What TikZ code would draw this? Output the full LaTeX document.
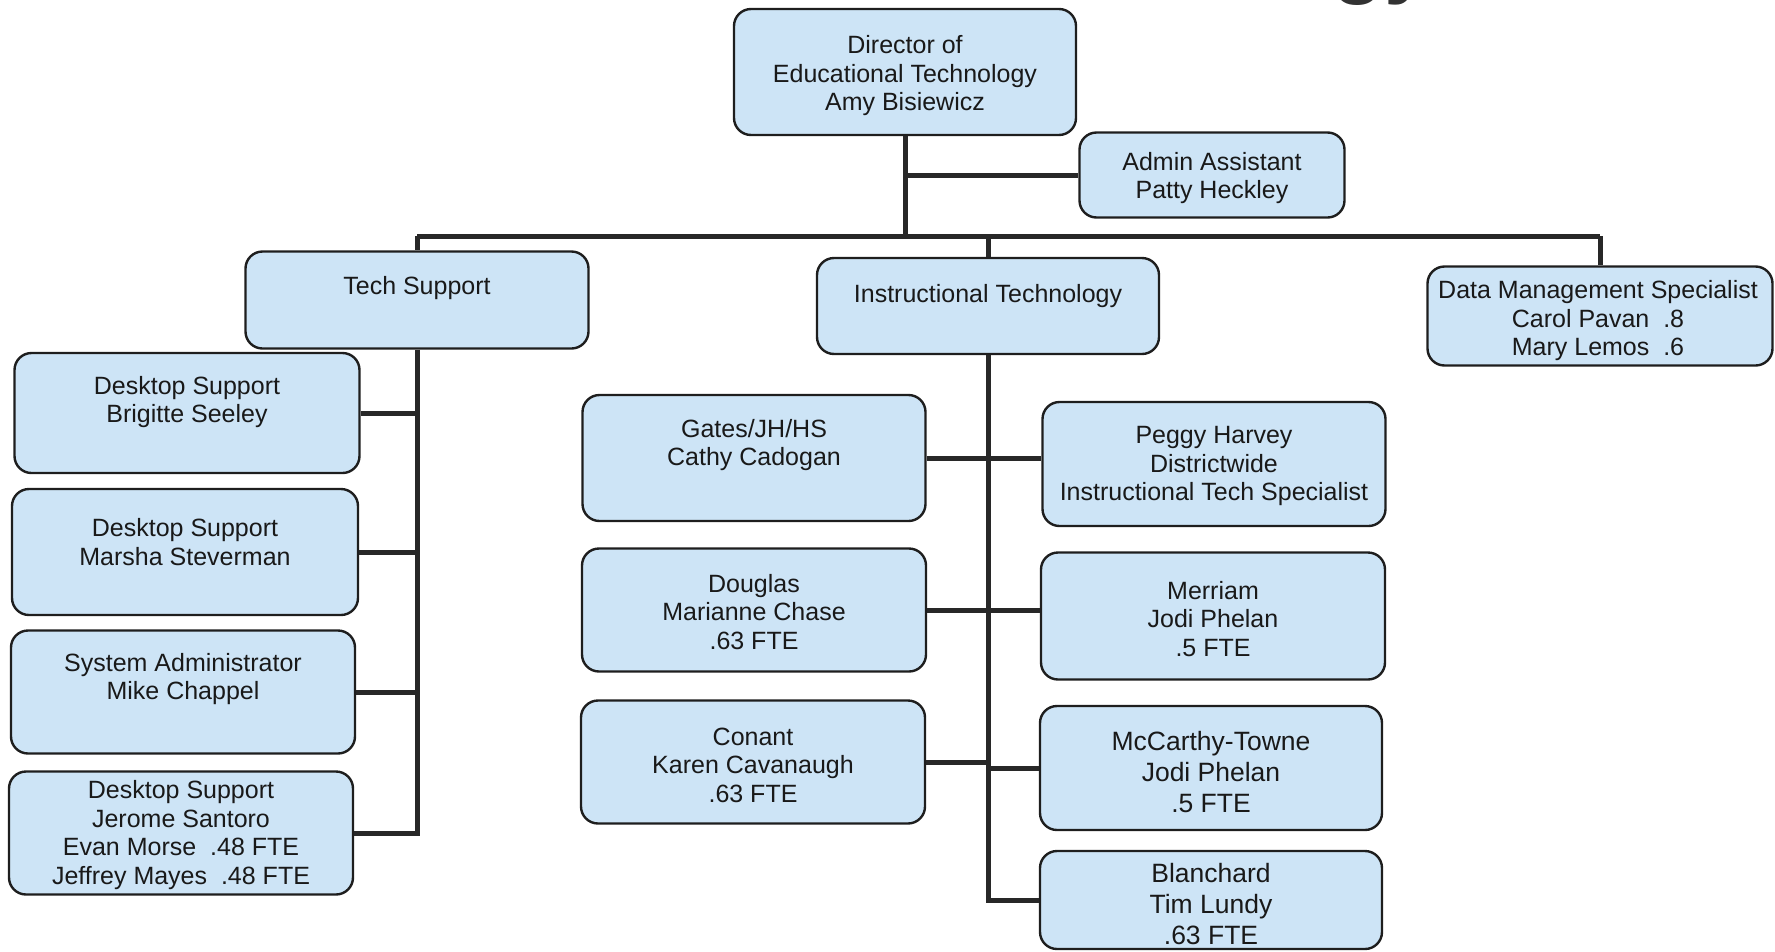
\documentclass[tikz,border=0pt]{standalone}
\usepackage{fontspec}
\setmainfont{Liberation Sans}
\definecolor{boxfill}{RGB}{205,228,246}
\definecolor{boxline}{RGB}{30,30,30}
\definecolor{wire}{RGB}{40,40,40}
\definecolor{ink}{RGB}{25,25,25}
\definecolor{titleink}{RGB}{50,50,50}
\begin{document}
\begin{tikzpicture}[x=1pt,y=-1pt,
  box/.style={draw=boxline, line width=2.4pt, fill=boxfill, rounded corners=17pt, inner sep=0pt},
  txt/.style={align=center, inner sep=0pt, text=ink, font=\fontsize{25}{28.5}\selectfont},
  bigtxt/.style={align=center, inner sep=0pt, text=ink, font=\fontsize{26.5}{31}\selectfont},
  conn/.style={draw=wire, line width=5pt},
  headline/.style={inner sep=0pt, text=titleink, font=\fontsize{85}{90}\selectfont\bfseries},
]
\useasboundingbox (0,0) rectangle (1775,951);

% page heading, mostly above the sheet
\begin{scope}
\clip (0,0) rectangle (1775,951);
\node[headline, anchor=base east] (heading) at (1432,-13) {Technology};
\end{scope}

\coordinate (bus) at (905,236);

% boxes
\node[box, minimum width=342pt, minimum height=126pt] (dir) at (905,72) {};
\node[box, minimum width=265pt, minimum height=85pt]  (adm) at (1212,175) {};
\node[box, minimum width=343pt, minimum height=97pt]  (ts)  at (417,300) {};
\node[box, minimum width=342pt, minimum height=96pt]  (it)  at (988,306) {};
\node[box, minimum width=345pt, minimum height=99pt]  (dm)  at (1600,316) {};

\node[box, minimum width=345pt, minimum height=120pt] (b1) at (187,413) {};
\node[box, minimum width=346pt, minimum height=126pt] (b2) at (185,552) {};
\node[box, minimum width=344pt, minimum height=123pt] (b3) at (183,692) {};
\node[box, minimum width=344pt, minimum height=123pt] (b4) at (181,833) {};

\node[box, minimum width=343pt, minimum height=126pt] (ga) at (754,458) {};
\node[box, minimum width=344pt, minimum height=123pt] (dg) at (754,610) {};
\node[box, minimum width=344pt, minimum height=123pt] (co) at (753,762) {};

\node[box, minimum width=343pt, minimum height=124pt] (ph) at (1214,464) {};
\node[box, minimum width=344pt, minimum height=127pt] (me) at (1213,616) {};
\node[box, minimum width=342pt, minimum height=124pt] (mc) at (1211,768) {};
\node[box, minimum width=342pt, minimum height=98pt]  (bl) at (1211,900) {};

% connectors
\draw[conn] (dir.south) -- (dir.south |- bus);
\draw[conn] (dir.south |- adm.west) -- (adm.west);
\draw[conn] (ts.north |- bus) -- (dm.north |- bus);
\draw[conn] (ts.north |- bus) -- (ts.north);
\draw[conn] (it.north |- bus) -- (it.north);
\draw[conn] (dm.north |- bus) -- (dm.north);

\draw[conn] (ts.south) -- (ts.south |- b4.east) -- (b4.east);
\draw[conn] (b1.east) -- (b1.east -| ts.south);
\draw[conn] (b2.east) -- (b2.east -| ts.south);
\draw[conn] (b3.east) -- (b3.east -| ts.south);

\draw[conn] (it.south) -- (it.south |- bl.west) -- (bl.west);
\draw[conn] (ga.east) -- (ga.east -| ph.west);
\draw[conn] (dg.east) -- (dg.east -| me.west);
\draw[conn] (co.east) -- (co.east -| it.south);
\draw[conn] (mc.west) -- (mc.west -| it.south);

% labels
\node[txt] (dir-t) at (905,76) {Director of\\Educational Technology\\Amy Bisiewicz};
\node[txt] (adm-t) at (1212,178) {Admin Assistant\\Patty Heckley};
\node[txt] (ts-t)  at (417,288) {Tech Support};
\node[txt] (it-t)  at (988,296) {Instructional Technology};
\node[txt] (dm-t)  at (1598,321) {Data Management Specialist\\Carol Pavan\ \ .8\\Mary Lemos\ \ .6};

\node[txt] (b1-t) at (187,402) {Desktop Support\\Brigitte Seeley};
\node[txt] (b2-t) at (185,542) {Desktop Support\\Marsha Steverman};
\node[txt] (b3-t) at (183,679) {System Administrator\\Mike Chappel};
\node[txt] (b4-t) at (181,835) {Desktop Support\\Jerome Santoro\\Evan Morse\ \ .48 FTE\\Jeffrey Mayes\ \ .48 FTE};

\node[txt] (ga-t) at (754,445) {Gates/JH/HS\\Cathy Cadogan};
\node[txt] (dg-t) at (754,612) {Douglas\\Marianne Chase\\.63 FTE};
\node[txt] (co-t) at (753,765) {Conant\\Karen Cavanaugh\\.63 FTE};

\node[txt] (ph-t) at (1214,466) {Peggy Harvey\\Districtwide\\Instructional Tech Specialist};
\node[txt] (me-t) at (1213,619) {Merriam\\Jodi Phelan\\.5 FTE};
\node[bigtxt] (mc-t) at (1211,772) {McCarthy-Towne\\Jodi Phelan\\.5 FTE};
\node[bigtxt] (bl-t) at (1211,904) {Blanchard\\Tim Lundy\\.63 FTE};
\end{tikzpicture}
\end{document}
